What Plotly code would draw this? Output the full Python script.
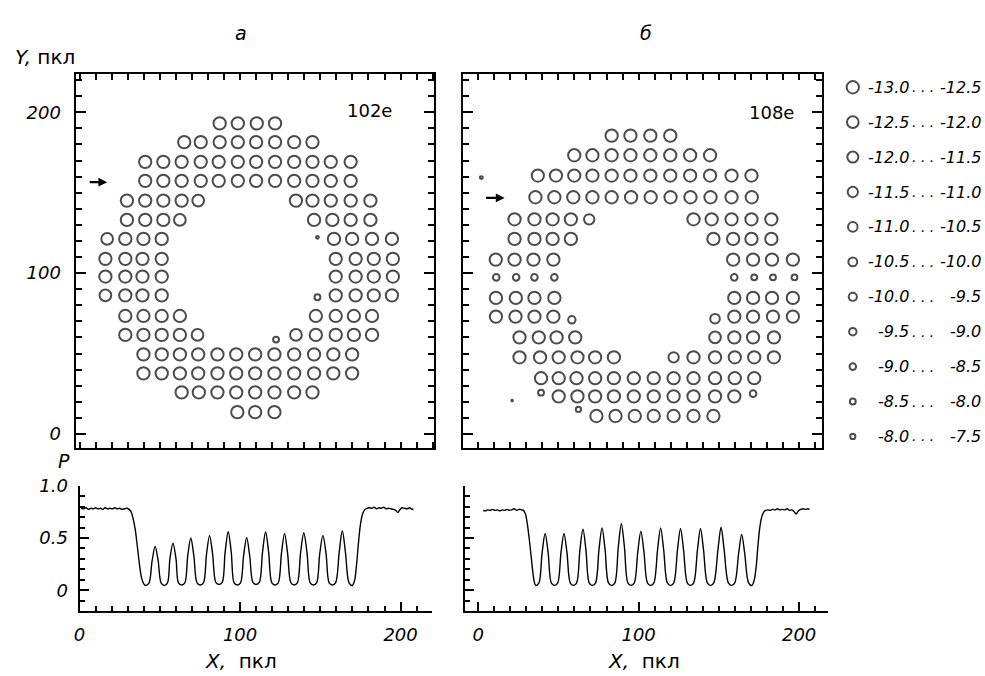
import plotly.graph_objects as go

W, H = 985, 676

# ---------------- data ----------------
# Panel a (102e): hole rows - Y of each row, X of holes in the row, value of each hole
A_ROW_Y = [193.1, 181.5, 169.2, 157.4, 145.1, 133.1, 121.3, 108.9, 97.9, 86.2,
           73.4, 61.6, 49.5, 37.7, 25.9, 13.6]
A_ROW_X = [
    [87.3, 98.6, 110.4, 121.8],
    [65.2, 75.5, 87.3, 98.6, 110.0, 121.8, 133.7, 145.1],
    [40.9, 52.2, 63.6, 75.5, 86.7, 98.6, 110.0, 121.8, 133.7, 145.1, 156.5, 168.9],
    [40.9, 52.2, 63.6, 75.5, 86.7, 98.6, 110.0, 121.8, 133.7, 145.1, 156.5, 168.9],
    [29.5, 40.9, 52.2, 63.6, 73.9, 134.8, 145.1, 156.5, 168.9, 181.2],
    [29.5, 40.9, 52.2, 62.5, 146.1, 157.5, 168.9, 181.2],
    [17.2, 28.5, 39.8, 51.2, 158.5, 169.8, 182.2, 194.6],
    [16.1, 28.5, 39.2, 51.2, 159.6, 172.0, 183.3, 195.2],
    [16.1, 28.5, 39.2, 51.2, 159.6, 172.0, 183.3, 195.2],
    [16.1, 28.5, 39.2, 51.2, 159.6, 172.0, 183.3, 194.6],
    [28.5, 39.8, 51.2, 62.5, 147.2, 159.6, 170.9, 182.2],
    [28.5, 39.8, 51.2, 62.5, 73.5, 134.8, 147.2, 159.6, 170.9, 182.2],
    [39.8, 51.2, 62.5, 73.9, 85.9, 97.6, 109.4, 121.4, 133.7, 146.1, 158.1, 169.8],
    [39.8, 51.2, 62.5, 73.9, 85.9, 97.6, 109.4, 121.4, 133.7, 146.1, 158.1, 169.8],
    [63.6, 74.3, 85.9, 97.6, 109.4, 121.4, 133.7, 145.1],
    [98.3, 109.4, 121.4],
]
A_ROW_V = [
    [-12.7, -12.7, -12.7, -12.7],
    [-12.7, -12.7, -12.7, -12.7, -12.7, -12.7, -12.7, -12.7],
    [-12.7, -12.7, -12.7, -12.7, -12.7, -12.7, -12.7, -12.7, -12.7, -12.7, -12.7, -12.7],
    [-12.7, -12.7, -12.7, -12.7, -12.7, -12.7, -12.7, -12.7, -12.7, -12.7, -12.7, -12.7],
    [-12.7, -12.7, -12.7, -12.7, -12.3, -12.7, -12.7, -12.7, -12.7, -12.7],
    [-12.7, -12.7, -12.7, -12.3, -12.7, -12.7, -12.7, -12.7],
    [-12.3, -12.7, -12.7, -12.7, -12.7, -12.7, -12.7, -12.7],
    [-12.7, -12.7, -12.7, -12.7, -12.7, -12.7, -12.7, -12.7],
    [-12.7, -12.7, -12.7, -12.7, -12.7, -12.7, -12.7, -12.7],
    [-12.3, -12.7, -12.7, -12.7, -12.7, -12.7, -12.7, -12.7],
    [-12.7, -12.7, -12.7, -12.7, -12.7, -12.7, -12.7, -12.7],
    [-12.7, -12.7, -12.7, -12.7, -12.3, -12.3, -12.7, -12.7, -12.7, -12.7],
    [-12.7, -12.7, -12.7, -12.7, -12.7, -12.7, -12.7, -12.7, -12.7, -12.7, -12.7, -12.7],
    [-12.7, -12.7, -12.7, -12.7, -12.7, -12.7, -12.7, -12.7, -12.7, -12.7, -12.7, -12.7],
    [-12.7, -12.7, -12.7, -12.7, -12.7, -12.7, -12.7, -12.7],
    [-12.7, -12.7, -12.7],
]
A_EXTRA_X = [148.2, 148.2, 122.4]
A_EXTRA_Y = [122.3, 85.0, 58.7]
A_EXTRA_V = [-7.3, -8.3, -8.2]

# Panel b (108e)
B_ROW_Y = [185.5, 173.3, 160.7, 147.2, 133.5, 121.3, 108.4, 97.4, 84.6, 73.0,
           60.1, 47.7, 34.7, 23.4, 11.2]
B_ROW_X = [
    [83.2, 94.9, 107.3, 119.7],
    [59.9, 71.2, 83.2, 94.9, 107.3, 119.7, 132.1, 144.5],
    [37.2, 48.5, 59.9, 71.2, 83.2, 94.9, 107.3, 119.7, 132.1, 144.5, 157.9, 170.3],
    [35.7, 47.5, 59.3, 71.2, 83.2, 95.3, 107.5, 119.9, 132.3, 144.8, 157.9, 170.5],
    [22.7, 35.1, 46.4, 57.8, 69.2, 134.2, 145.5, 157.9, 170.3, 182.7],
    [22.7, 35.1, 46.4, 57.8, 146.6, 158.9, 170.3, 182.7],
    [11.0, 22.7, 34.5, 46.9, 158.9, 171.3, 183.1, 196.1],
    [11.3, 23.7, 35.1, 47.5, 159.6, 172.0, 183.7, 197.1],
    [11.1, 23.5, 35.1, 47.5, 159.6, 171.3, 183.1, 196.1],
    [11.1, 23.3, 35.1, 46.9, 159.6, 171.3, 183.7, 196.1],
    [25.8, 37.8, 48.9, 60.5, 147.6, 159.6, 171.3, 184.3],
    [25.8, 38.6, 50.2, 61.9, 72.9, 84.6, 121.8, 134.2, 147.6, 159.9, 172.0, 184.3],
    [39.2, 50.2, 61.3, 72.9, 84.6, 97.0, 109.4, 121.8, 134.2, 147.6, 159.9, 172.0],
    [50.2, 61.9, 72.9, 84.6, 97.0, 109.4, 121.8, 134.2, 147.6, 159.6],
    [73.7, 85.6, 97.6, 109.4, 121.8, 134.2, 146.6],
]
B_ROW_V = [
    [-12.7, -12.7, -12.7, -12.7],
    [-12.7, -12.7, -12.7, -12.7, -12.7, -12.7, -12.7, -12.7],
    [-12.7, -12.7, -12.7, -12.7, -12.7, -12.7, -12.7, -12.7, -12.7, -12.7, -12.7, -12.7],
    [-12.7, -12.7, -12.7, -12.7, -12.7, -12.7, -12.7, -12.7, -12.7, -12.7, -12.7, -12.7],
    [-12.7, -12.7, -12.7, -12.7, -11.3, -12.7, -12.7, -12.7, -12.7, -12.7],
    [-12.7, -12.7, -12.7, -12.7, -12.7, -12.7, -12.7, -12.7],
    [-12.7, -12.7, -12.7, -12.7, -12.7, -12.7, -12.7, -12.7],
    [-8.8, -8.8, -8.7, -8.8, -8.7, -8.3, -8.3, -8.2],
    [-12.7, -12.7, -12.7, -12.7, -12.7, -12.7, -12.7, -12.7],
    [-12.7, -12.7, -12.7, -12.7, -12.7, -12.7, -12.7, -12.7],
    [-12.7, -12.7, -12.7, -12.7, -12.3, -12.7, -12.7, -12.7],
    [-12.7, -12.7, -12.7, -12.7, -12.7, -12.7, -11.2, -12.7, -12.7, -12.7, -12.7, -12.7],
    [-12.7, -12.7, -12.7, -12.7, -12.7, -12.7, -12.7, -12.7, -12.7, -12.7, -12.7, -12.7],
    [-12.7, -12.7, -12.7, -12.7, -12.7, -12.7, -12.7, -12.7, -12.7, -12.7],
    [-12.7, -12.7, -12.7, -12.7, -12.7, -12.7, -12.7],
]
B_EXTRA_X = [2.0, 58.4, 147.6, 39.2, 171.3, 21.2, 62.5]
B_EXTRA_Y = [159.4, 71.0, 71.7, 25.7, 25.1, 20.8, 15.3]
B_EXTRA_V = [-7.4, -9.3, -10.8, -8.3, -8.8, -6.8, -7.8]

# Legend bins (value ranges)
BIN_LO = [-13.0, -12.5, -12.0, -11.5, -11.0, -10.5, -10.0, -9.5, -9.0, -8.5, -8.0]
BIN_HI = [-12.5, -12.0, -11.5, -11.0, -10.5, -10.0, -9.5, -9.0, -8.5, -8.0, -7.5]

# Profiles P(X) along the arrow rows
PA_X = [1, 2.5, 4, 5.5, 7, 8.5, 10, 11.5, 13, 14.5, 16, 17.5, 19, 20.5, 22, 23.5, 25, 26.5, 28, 29.5, 30.8,
        32.0, 33.3, 34.7, 36.0, 37.3, 38.6, 40.0, 41.3,
        43.3, 45.2, 47.1, 49.0, 50.8, 52.8,
        54.8, 56.3, 58.2, 60.1, 61.6, 63.6,
        65.6, 67.4, 69.3, 71.2, 73.2, 75.2,
        77.2, 79.1, 81.0, 82.9, 84.9, 86.9,
        88.9, 90.7, 92.6, 94.5, 96.3, 98.3,
        100.3, 102.2, 104.1, 106.0, 108.0, 110.0,
        112.0, 114.0, 115.9, 117.8, 119.8, 121.8,
        123.8, 125.8, 127.7, 129.6, 131.7, 133.7,
        135.7, 137.7, 139.7, 141.7, 143.7, 145.7,
        147.7, 149.6, 151.6, 153.6, 155.5, 157.5,
        159.5, 161.8, 163.7, 165.6, 167.9, 169.9,
        171.3, 172.6, 173.8, 175.0, 176.3, 177.6, 179.0,
        180.5, 182, 183.5, 185, 186.5, 188, 189.5, 191, 192.5, 194, 195.5, 197, 198.3, 199.5,
        201, 202.5, 204, 205.5, 207, 208]
PA_P = [.785, .78, .79, .775, .785, .78, .79, .78, .785, .775, .79, .78, .785, .78, .79, .78, .785, .775, .78, .785, .775,
        .755, .69, .58, .42, .25, .12, .06, .045,
        .07, .28, .42, .28, .07, .045,
        .07, .30, .45, .30, .07, .05,
        .07, .33, .50, .33, .07, .05,
        .07, .345, .525, .345, .075, .055,
        .075, .365, .56, .365, .07, .05,
        .07, .33, .505, .33, .075, .055,
        .075, .365, .56, .365, .07, .05,
        .07, .355, .545, .355, .07, .05,
        .07, .36, .55, .36, .07, .05,
        .07, .345, .525, .345, .07, .05,
        .07, .37, .57, .37, .07, .045,
        .09, .25, .46, .63, .73, .77, .785,
        .79, .785, .795, .78, .79, .785, .795, .78, .785, .78, .775, .765, .745, .77,
        .79, .785, .78, .79, .775, .78]

PB_X = [3.1, 4.5, 6, 7.5, 9, 10.5, 12, 13.5, 15, 16.5, 18, 19.5, 21, 22.5, 24, 25.5, 27, 28.3,
        29.5, 30.7, 31.8, 33.0, 34.2, 35.0, 35.9,
        37.9, 39.85, 41.75, 43.65, 45.6, 47.6,
        49.6, 51.6, 53.5, 55.4, 57.4, 59.4,
        61.4, 63.4, 65.3, 67.2, 69.2, 71.2,
        73.2, 75.3, 77.2, 79.1, 81.2, 83.2,
        85.2, 87.35, 89.25, 91.15, 93.3, 95.3,
        97.3, 99.5, 101.4, 103.3, 105.5, 107.5,
        109.5, 111.8, 113.7, 115.6, 117.9, 119.9,
        121.9, 124.2, 126.1, 128.0, 130.3, 132.3,
        134.3, 136.65, 138.55, 140.45, 142.8, 144.8,
        146.8, 149.45, 151.35, 153.25, 155.9, 157.9,
        159.9, 162.3, 164.2, 166.1, 168.5, 170.5,
        171.9, 173.2, 174.3, 175.4, 176.5, 177.6, 179.0,
        180.5, 182, 183.5, 185, 186.5, 188, 189.5, 191, 192.5, 194, 195.5, 197, 198.2, 199.4,
        201, 202.5, 204, 205.5, 206.5]
PB_P = [.765, .76, .77, .765, .775, .765, .77, .76, .77, .765, .775, .765, .77, .78, .765, .775, .77, .765,
        .73, .63, .50, .33, .16, .08, .045,
        .07, .356, .544, .356, .07, .045,
        .07, .356, .544, .356, .07, .045,
        .07, .382, .585, .382, .07, .045,
        .07, .389, .597, .389, .07, .045,
        .07, .415, .638, .415, .07, .045,
        .07, .37, .566, .37, .07, .045,
        .07, .389, .597, .389, .07, .045,
        .07, .385, .591, .385, .07, .045,
        .07, .385, .591, .385, .07, .045,
        .07, .393, .604, .393, .07, .045,
        .07, .351, .535, .351, .07, .045,
        .09, .22, .42, .59, .69, .74, .765,
        .77, .765, .775, .77, .78, .77, .775, .77, .78, .765, .77, .75, .73, .76,
        .775, .78, .775, .78, .775]

# tick labels
Y_TICKS = [0, 100, 200]
Y_TICK_TEXT = ["0", "100", "200"]
X_TICKS = [0, 100, 200]
X_TICK_TEXT = ["0", "100", "200"]
P_TICKS = [0, 0.5, 1.0]
P_TICK_TEXT = ["0", "0.5", "1.0"]

# ---------------- styling ----------------
FONT = "DejaVu Sans"
LEGEND_SIZES = [12.3, 11.7, 11.0, 10.3, 9.6, 8.9, 8.2, 7.4, 6.6, 5.9, 5.2]


def size_for(v):
    for lo, hi, s in zip(BIN_LO, BIN_HI, LEGEND_SIZES):
        if lo <= v < hi:
            return s
    if v < BIN_LO[0]:
        return LEGEND_SIZES[0]
    return max(1.5, 3.2 - (v - BIN_HI[-1]) * 2.2)


def flatten(row_y, row_x, row_v, ex_x, ex_y, ex_v):
    xs, ys, vs = [], [], []
    for y, xr, vr in zip(row_y, row_x, row_v):
        xs += list(xr)
        ys += [y] * len(xr)
        vs += list(vr)
    return xs + ex_x, ys + ex_y, vs + ex_v


def hx(p):
    return p / W


def hy(p):
    return 1 - p / H


fig = go.Figure()

ax_x, ax_y, ax_v = flatten(A_ROW_Y, A_ROW_X, A_ROW_V, A_EXTRA_X, A_EXTRA_Y, A_EXTRA_V)
bx_x, bx_y, bx_v = flatten(B_ROW_Y, B_ROW_X, B_ROW_V, B_EXTRA_X, B_EXTRA_Y, B_EXTRA_V)

marker_line = dict(color="black", width=2.0)
fig.add_trace(go.Scatter(x=ax_x, y=ax_y, mode="markers", xaxis="x", yaxis="y",
                         marker=dict(symbol="circle-open", color="black",
                                     size=[size_for(v) for v in ax_v], line=marker_line)))
fig.add_trace(go.Scatter(x=bx_x, y=bx_y, mode="markers", xaxis="x2", yaxis="y2",
                         marker=dict(symbol="circle-open", color="black",
                                     size=[size_for(v) for v in bx_v], line=marker_line)))
fig.add_trace(go.Scatter(x=PA_X, y=PA_P, mode="lines", xaxis="x3", yaxis="y3",
                         line=dict(color="black", width=1.4, shape="spline", smoothing=0.9)))
fig.add_trace(go.Scatter(x=PB_X, y=PB_P, mode="lines", xaxis="x4", yaxis="y4",
                         line=dict(color="black", width=1.4, shape="spline", smoothing=0.9)))

# legend markers on a hidden axis
LEG_MARK_X = 852
leg_idx = list(range(len(BIN_LO)))
fig.add_trace(go.Scatter(x=[LEG_MARK_X] * len(BIN_LO), y=leg_idx, mode="markers",
                         xaxis="x5", yaxis="y5",
                         marker=dict(symbol="circle-open", color="black",
                                     size=LEGEND_SIZES, line=marker_line)))

tickfont = dict(family=FONT, size=18, color="black", style="italic")

scatter_y_rng = [-8.56, 223.85]


def scatter_x(domain, rng):
    return dict(domain=domain, range=rng, showline=True, linewidth=2, linecolor="black",
                mirror="allticks", ticks="inside", ticklen=6, tickwidth=1.8, tickcolor="black",
                tick0=0, dtick=100, showticklabels=False, showgrid=False, zeroline=False,
                minor=dict(ticks="inside", tick0=0, dtick=10, ticklen=6, tickwidth=1.8,
                           tickcolor="black", showgrid=False))


def scatter_y(domain, anchor, labels):
    return dict(domain=domain, range=scatter_y_rng, anchor=anchor, showline=True, linewidth=2,
                linecolor="black", mirror="allticks", ticks="inside", ticklen=10, tickwidth=1.8,
                tickcolor="black", tickmode="array", tickvals=Y_TICKS, ticktext=Y_TICK_TEXT,
                showticklabels=labels, tickfont=tickfont, ticklabelstandoff=9,
                showgrid=False, zeroline=False,
                minor=dict(ticks="inside", tickmode="linear", tick0=0, dtick=10, ticklen=6,
                           tickwidth=1.8, tickcolor="black", showgrid=False))


def p_x(domain, rng, anchor):
    return dict(domain=domain, range=rng, anchor=anchor, showline=True, linewidth=2,
                linecolor="black", mirror=False, ticks="inside", ticklen=9, tickwidth=1.8,
                tickcolor="black", tickmode="array", tickvals=X_TICKS, ticktext=X_TICK_TEXT,
                tickfont=tickfont, ticklabelstandoff=6, showgrid=False, zeroline=False,
                minor=dict(ticks="inside", tickmode="linear", tick0=0, dtick=10, ticklen=5,
                           tickwidth=1.8, tickcolor="black", showgrid=False))


def p_y(domain, anchor, labels):
    return dict(domain=domain, range=[-0.2, 1.0], anchor=anchor, showline=True, linewidth=2,
                linecolor="black", mirror=False, ticks="inside", ticklen=9, tickwidth=1.8,
                tickcolor="black", tickmode="array", tickvals=P_TICKS, ticktext=P_TICK_TEXT,
                showticklabels=labels, tickfont=tickfont, ticklabelstandoff=6,
                showgrid=False, zeroline=False,
                minor=dict(ticks="inside", tickmode="linear", tick0=0, dtick=0.1, ticklen=5,
                           tickwidth=1.8, tickcolor="black", showgrid=False))


scat_ydom = [hy(444), hy(64)]
p_ydom = [hy(610), hy(482.7)]

layout = dict(
    width=W, height=H, autosize=False,
    margin=dict(l=0, r=0, t=0, b=0),
    paper_bgcolor="white", plot_bgcolor="rgba(0,0,0,0)",
    showlegend=False,
    xaxis=dict(scatter_x([hx(70), hx(431)], [-2.48, 221.05]), anchor="y"),
    yaxis=scatter_y(scat_ydom, "x", True),
    xaxis2=dict(scatter_x([hx(460), hx(821)], [-9.29, 214.24]), anchor="y2"),
    yaxis2=scatter_y(scat_ydom, "x2", False),
    xaxis3=p_x([hx(74), hx(428.5)], [0, 219.5], "y3"),
    yaxis3=p_y(p_ydom, "x3", True),
    xaxis4=p_x([hx(462), hx(827)], [-8.05, 217.96], "y4"),
    yaxis4=p_y(p_ydom, "x4", False),
    xaxis5=dict(domain=[hx(837), 1.0], range=[837, 985], anchor="y5", visible=False),
    yaxis5=dict(domain=[hy(450), hy(60)], range=[10.493, -0.493], anchor="x5", visible=False),
)
fig.update_layout(**layout)

ann = []
lab_font = dict(family=FONT, size=20, color="black")
ital = dict(family=FONT, size=19, color="black", style="italic")


def text_at(px, py, text, font, xanchor="center"):
    ann.append(dict(x=hx(px), y=hy(py), xref="paper", yref="paper", text=text,
                    showarrow=False, font=font, xanchor=xanchor, yanchor="middle",
                    borderpad=0))


text_at(236, 22, "а", ital)
text_at(644, 22, "б", ital)
text_at(8, 47, "<i>Y,</i> пкл", lab_font, xanchor="left")
text_at(366, 101, "102e", dict(family=FONT, size=18, color="black"))
text_at(770, 103, "108e", dict(family=FONT, size=18, color="black"))
text_at(58, 457, "<i>P</i>", dict(family=FONT, size=19, color="black"))
text_at(236, 661, "<i>X,</i>\u00a0 пкл", lab_font)
text_at(642, 661, "<i>X,</i>\u00a0 пкл", lab_font)

# arrows marking the profile rows
ann.append(dict(x=17.2, y=156.6, xref="x", yref="y", ax=-19, ay=0, text="", showarrow=True,
                arrowhead=2, arrowsize=0.8, arrowwidth=2.2, arrowcolor="black"))
ann.append(dict(x=16.5, y=146.8, xref="x2", yref="y2", ax=-20, ay=0, text="", showarrow=True,
                arrowhead=2, arrowsize=0.8, arrowwidth=2.2, arrowcolor="black"))

leg_font = dict(family=FONT, size=16, color="black", style="italic")
dots_font = dict(family=FONT, size=14, color="black", style="italic")
for i, (lo, hi) in enumerate(zip(BIN_LO, BIN_HI)):
    ann.append(dict(x=910, y=i, xref="x5", yref="y5", text=f"{lo:.1f}", showarrow=False,
                    font=leg_font, xanchor="right", yanchor="middle", borderpad=0))
    ann.append(dict(x=911, y=i, xref="x5", yref="y5", text=".\u00a0.\u00a0.", showarrow=False,
                    font=dots_font, xanchor="left", yanchor="middle", borderpad=0))
    ann.append(dict(x=982, y=i, xref="x5", yref="y5", text=f"{hi:.1f}", showarrow=False,
                    font=leg_font, xanchor="right", yanchor="middle", borderpad=0))

fig.update_layout(annotations=ann)
fig.write_html("out.html", config={"displayModeBar": False},
               post_script="document.body.style.margin='0';document.body.style.padding='0';"
                           "document.documentElement.style.overflow='hidden';")
